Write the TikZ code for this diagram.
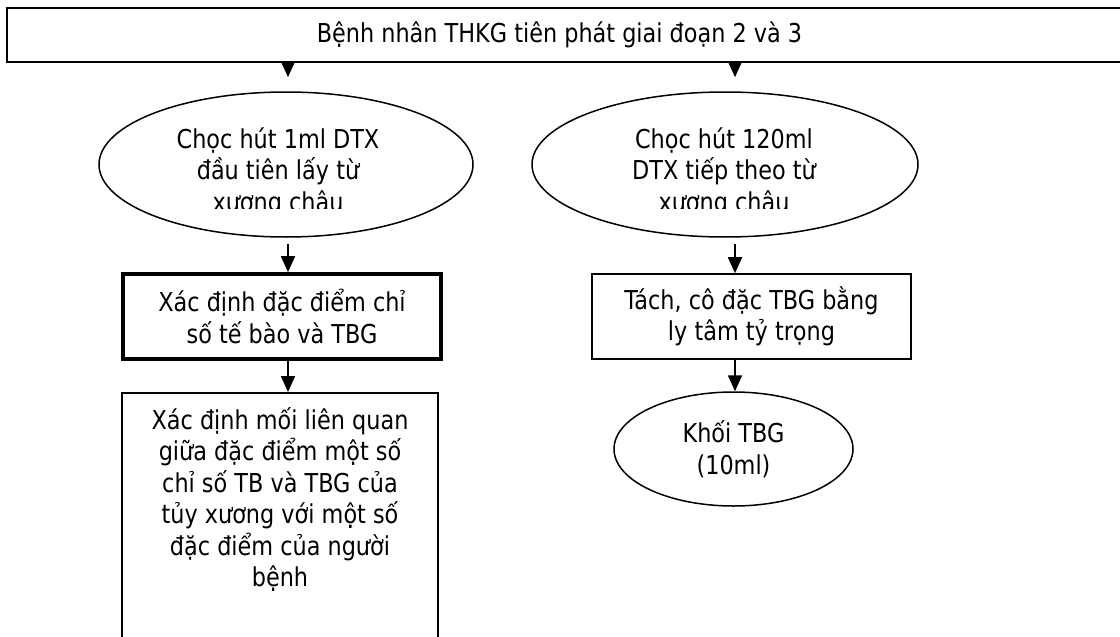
\documentclass[tikz,border=0pt]{standalone}
\usepackage{fontspec}
\setmainfont{DejaVu Sans}[FakeStretch=0.86]
\usetikzlibrary{arrows.meta,shapes.geometric}
\tikzstyle{banner}=[draw, line width=1.6pt, minimum height=54pt, minimum width=1123pt]
\tikzstyle{box}=[draw, line width=1.6pt, minimum height=85pt, minimum width=319pt, align=center]
\tikzstyle{boxbold}=[draw, line width=3.6pt, minimum height=85pt, minimum width=318pt, align=center]
\tikzstyle{oval}=[draw, ellipse, line width=1.5pt, inner sep=0pt, align=center]
\tikzstyle{txt}=[align=center, inner sep=0pt]
\tikzstyle{link}=[->, line width=1.8pt]

\begin{document}
\begin{tikzpicture}[x=1pt,y=-1pt,>={Triangle[length=16pt,width=14pt]},font=\fontsize{26pt}{31.5pt}\selectfont]
\clip (0,0) rectangle (1120,637);

\node[banner] at (568.5,35) (patient) {\hspace*{-18pt}Bệnh nhân THKG tiên phát giai đoạn 2 và 3};

\node[oval, minimum width=374pt, minimum height=145pt] at (286,164.5) (aspirate1) {};
\node[oval, minimum width=386pt, minimum height=145pt] at (725,164.5) (aspirate2) {};
% the third line of each oval is cut off
\begin{scope}
\clip (0,0) rectangle (1120,208);
\node[txt] at (278,172) (aspirate1text) {Chọc hút 1ml DTX\\đầu tiên lấy từ\\xương châu};
\node[txt] at (724,172) (aspirate2text) {Chọc hút 120ml\\DTX tiếp theo từ\\xương châu};
\end{scope}

\node[boxbold] at (282,316.5) (indices) {Xác định đặc điểm chỉ\\số tế bào và TBG};
\node[box] at (751.5,316.5) (separate) {Tách, cô đặc TBG bằng\\ly tâm tỷ trọng};

\node[oval, minimum width=239pt, minimum height=114pt, below of = separate, node distance = 132.5pt, xshift=-18pt] (cells) {Khối TBG\\(10ml)};

\node[box, anchor=north, minimum width=316pt, minimum height=270pt] at (280,392) (relation) {};
\node[txt, anchor=north] at ([yshift=-15pt]relation.north) (relationtext) {Xác định mối liên quan\\giữa đặc điểm một số\\chỉ số TB và TBG của\\tủy xương với một số\\đặc điểm của người\\bệnh};

\coordinate (lcol) at (288,0);
\coordinate (rcol) at (735,0);

\draw[link, shorten >=14pt] (patient.south -| lcol) -- (aspirate1.north -| lcol);
\draw[link, shorten >=14pt] (patient.south -| rcol) -- (aspirate2.north -| rcol);
\draw[link, shorten <=6pt] (aspirate1.south -| lcol) -- (indices.north -| lcol);
\draw[link, shorten <=6pt] (aspirate2.south -| rcol) -- (separate.north -| rcol);
\draw[link] (indices.south -| lcol) -- (relation.north -| lcol);
\draw[link] (separate.south -| rcol) -- (cells.north -| rcol);
\end{tikzpicture}
\end{document}
